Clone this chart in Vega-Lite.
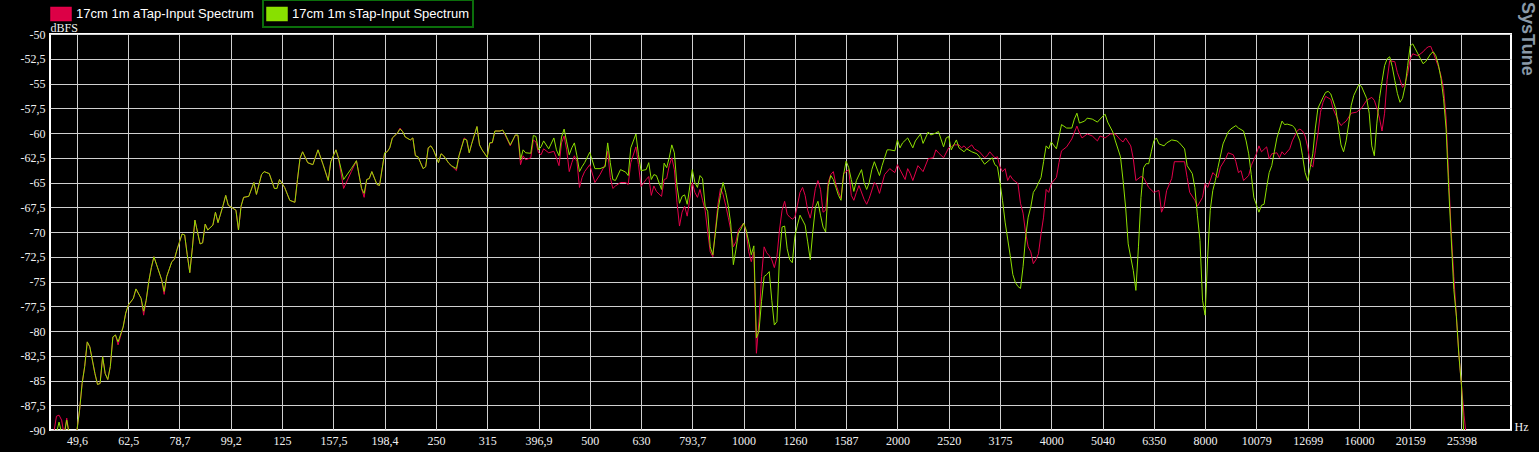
{
  "$schema": "https://vega.github.io/schema/vega-lite/v6.json",
  "autosize": {"type": "none"},
  "width": 1461,
  "height": 396,
  "padding": {"left": 50, "top": 34, "right": 28, "bottom": 22},
  "background": "black",
  "title": {"text": "SysTune", "orient": "right", "anchor": "start", "frame": "bounds", "angle": 90, "baseline": "top", "offset": -10, "dx": 3, "font": "Liberation Sans", "fontSize": 18, "fontWeight": "bold", "color": "#8a99a8"},
  "datasets": {
    "a": [
      {"freq":44.71,"dB":-90.2},{"freq":45.23,"dB":-88.6},{"freq":45.76,"dB":-88.5},{"freq":46.29,"dB":-89.0},{"freq":46.82,"dB":-90.5},{"freq":47.37,"dB":-88.8},{"freq":47.92,"dB":-90.5},{"freq":49.04,"dB":-90.5},
      {"freq":49.61,"dB":-90},{"freq":50.19,"dB":-88.0},{"freq":50.77,"dB":-85.3},{"freq":51.36,"dB":-83.6},{"freq":51.96,"dB":-81.1},{"freq":52.56,"dB":-81.6},{"freq":53.79,"dB":-84.3},{"freq":54.42,"dB":-85.4},{"freq":55.05,"dB":-85.3},{"freq":55.69,"dB":-82.6},{"freq":56.33,"dB":-84.3},{"freq":56.99,"dB":-84.9},{"freq":57.65,"dB":-83.6},{"freq":58.32,"dB":-80.6},{"freq":59.0,"dB":-80.4},{"freq":59.69,"dB":-81.4},{"freq":61.08,"dB":-79.6},{"freq":61.79,"dB":-78.2},
      {"freq":62.5,"dB":-77.4},{"freq":63.96,"dB":-76.7},{"freq":64.71,"dB":-75.75},{"freq":66.22,"dB":-76.7},{"freq":66.99,"dB":-78.4},{"freq":67.76,"dB":-76.9},{"freq":68.56,"dB":-75.0},{"freq":69.35,"dB":-73.6},{"freq":70.16,"dB":-72.5},{"freq":72.63,"dB":-74.8},{"freq":73.48,"dB":-76.3},{"freq":74.33,"dB":-74.5},{"freq":76.06,"dB":-73.0},{"freq":76.95,"dB":-72.75},{"freq":77.84,"dB":-71.8},
      {"freq":79.66,"dB":-70.2},{"freq":80.59,"dB":-70.3},{"freq":81.53,"dB":-72.3},{"freq":82.47,"dB":-74.1},{"freq":83.44,"dB":-71.6},{"freq":84.4,"dB":-68.8},{"freq":86.38,"dB":-71.2},{"freq":87.38,"dB":-71.1},{"freq":88.4,"dB":-69.2},{"freq":89.42,"dB":-69.8},{"freq":91.52,"dB":-69.3},{"freq":92.58,"dB":-68.0},{"freq":93.65,"dB":-69.05},{"freq":95.84,"dB":-67.3},{"freq":96.96,"dB":-66.3},{"freq":98.08,"dB":-67.3},
      {"freq":101.53,"dB":-67.8},{"freq":102.71,"dB":-69.8},{"freq":103.9,"dB":-67.4},{"freq":105.11,"dB":-66.5},{"freq":107.56,"dB":-66.4},{"freq":110.08,"dB":-65.0},{"freq":111.36,"dB":-66.2},{"freq":113.96,"dB":-64.2},{"freq":115.29,"dB":-63.9},{"freq":117.98,"dB":-64.1},{"freq":120.74,"dB":-65.6},{"freq":122.15,"dB":-65.6},{"freq":123.56,"dB":-64.7},
      {"freq":126.45,"dB":-65.5},{"freq":129.41,"dB":-66.8},{"freq":132.44,"dB":-67.0},{"freq":133.98,"dB":-64.7},{"freq":135.53,"dB":-62.55},{"freq":137.11,"dB":-61.9},{"freq":140.31,"dB":-63.0},{"freq":143.59,"dB":-63.2},{"freq":146.95,"dB":-61.7},{"freq":150.39,"dB":-63.2},{"freq":153.9,"dB":-64.8},{"freq":155.69,"dB":-62.9},
      {"freq":159.32,"dB":-61.7},{"freq":161.18,"dB":-62.55},{"freq":164.94,"dB":-65.6},{"freq":170.75,"dB":-63.9},{"freq":174.75,"dB":-62.8},{"freq":178.83,"dB":-65.6},{"freq":180.91,"dB":-66.5},{"freq":183.02,"dB":-64.7},{"freq":185.15,"dB":-64.6},{"freq":187.29,"dB":-63.9},{"freq":191.67,"dB":-65.2},{"freq":193.9,"dB":-65.3},
      {"freq":198.43,"dB":-62.0},{"freq":200.73,"dB":-61.9},{"freq":203.07,"dB":-61.5},{"freq":205.43,"dB":-60.5},{"freq":210.24,"dB":-60.0},{"freq":212.67,"dB":-59.5},{"freq":215.14,"dB":-59.85},{"freq":217.66,"dB":-60.4},{"freq":222.74,"dB":-60.7},{"freq":225.32,"dB":-60.5},{"freq":227.94,"dB":-62.3},{"freq":230.59,"dB":-62.4},{"freq":235.97,"dB":-63.6},{"freq":238.73,"dB":-63.4},{"freq":241.49,"dB":-61.5},{"freq":244.31,"dB":-61.3},{"freq":247.14,"dB":-61.7},
      {"freq":252.9,"dB":-63.0},{"freq":255.85,"dB":-62.1},{"freq":258.83,"dB":-62.3},{"freq":264.88,"dB":-63.05},{"freq":267.95,"dB":-63.3},{"freq":274.23,"dB":-63.8},{"freq":277.4,"dB":-62.3},{"freq":283.88,"dB":-60.5},{"freq":287.18,"dB":-60.7},{"freq":290.53,"dB":-62.0},{"freq":293.9,"dB":-61.05},{"freq":300.78,"dB":-59.35},{"freq":304.25,"dB":-61.2},{"freq":307.8,"dB":-61.7},
      {"freq":314.98,"dB":-62.45},{"freq":318.63,"dB":-61.0},{"freq":322.35,"dB":-61.0},{"freq":326.1,"dB":-59.8},{"freq":333.72,"dB":-59.8},{"freq":337.6,"dB":-59.7},{"freq":341.5,"dB":-60.2},{"freq":349.5,"dB":-61.3},{"freq":357.66,"dB":-60.2},{"freq":361.82,"dB":-60.3},{"freq":366.04,"dB":-63.2},{"freq":370.29,"dB":-62.3},{"freq":374.58,"dB":-62.7},{"freq":383.33,"dB":-62.5},{"freq":387.8,"dB":-60.7},{"freq":392.3,"dB":-60.9},
      {"freq":396.85,"dB":-62.0},{"freq":401.45,"dB":-62.2},{"freq":406.14,"dB":-61.6},{"freq":415.62,"dB":-62.0},{"freq":425.34,"dB":-61.85},{"freq":430.26,"dB":-62.5},{"freq":435.3,"dB":-63.3},{"freq":440.34,"dB":-61.0},{"freq":445.46,"dB":-60.3},{"freq":450.62,"dB":-61.7},{"freq":455.86,"dB":-63.9},{"freq":461.18,"dB":-63.0},{"freq":466.54,"dB":-62.3},{"freq":471.93,"dB":-62.9},{"freq":477.45,"dB":-65.5},{"freq":482.97,"dB":-64.5},{"freq":488.6,"dB":-63.9},
      {"freq":500,"dB":-63.2},{"freq":511.7,"dB":-65.0},{"freq":523.65,"dB":-64.2},{"freq":535.9,"dB":-63.2},{"freq":542.1,"dB":-61.85},{"freq":548.45,"dB":-64.5},{"freq":554.8,"dB":-65.6},{"freq":561.25,"dB":-65.35},{"freq":574.35,"dB":-65.0},{"freq":587.8,"dB":-65.0},{"freq":594.6,"dB":-65.2},{"freq":601.55,"dB":-63.0},{"freq":615.6,"dB":-61.4},{"freq":622.75,"dB":-63.2},
      {"freq":629.96,"dB":-65.4},{"freq":644.7,"dB":-64.7},{"freq":652.2,"dB":-64.4},{"freq":659.75,"dB":-66.3},{"freq":667.44,"dB":-65.35},{"freq":675.2,"dB":-65.9},{"freq":691.0,"dB":-66.4},{"freq":699.0,"dB":-64.7},{"freq":707.1,"dB":-64.6},{"freq":715.3,"dB":-63.3},{"freq":723.6,"dB":-62.5},{"freq":732.1,"dB":-63.7},{"freq":740.6,"dB":-67.0},{"freq":749.2,"dB":-69.4},{"freq":757.9,"dB":-68.0},{"freq":766.7,"dB":-67.4},{"freq":775.6,"dB":-68.4},
      {"freq":793.7,"dB":-65.0},{"freq":802.9,"dB":-66.0},{"freq":812.3,"dB":-66.5},{"freq":821.7,"dB":-65.7},{"freq":831.2,"dB":-66.8},{"freq":840.9,"dB":-67.8},{"freq":850.7,"dB":-70.0},{"freq":860.5,"dB":-72.0},{"freq":870.6,"dB":-72.5},{"freq":880.7,"dB":-69.8},{"freq":890.9,"dB":-67.2},{"freq":901.2,"dB":-65.6},{"freq":911.7,"dB":-66.2},{"freq":922.4,"dB":-67.3},{"freq":933.1,"dB":-68.5},{"freq":943.9,"dB":-69.8},{"freq":954.9,"dB":-71.5},{"freq":965.9,"dB":-71.0},{"freq":977.2,"dB":-69.8},
      {"freq":1000,"dB":-69.1},{"freq":1011.6,"dB":-70.0},{"freq":1023.4,"dB":-72.0},{"freq":1035.3,"dB":-73.0},{"freq":1047.3,"dB":-72.0},{"freq":1059.5,"dB":-82.25},{"freq":1071.8,"dB":-79.0},{"freq":1084.2,"dB":-74.5},{"freq":1096.9,"dB":-71.5},{"freq":1109.6,"dB":-72.1},{"freq":1122.5,"dB":-72.4},{"freq":1135.5,"dB":-72.8},{"freq":1148.7,"dB":-73.6},{"freq":1162.1,"dB":-72.5},{"freq":1175.6,"dB":-69.8},{"freq":1189.2,"dB":-67.8},{"freq":1203.1,"dB":-66.9},{"freq":1217.0,"dB":-68.2},{"freq":1231.2,"dB":-68.5},{"freq":1245.5,"dB":-68.7},
      {"freq":1259.9,"dB":-68.5},{"freq":1274.5,"dB":-67.3},{"freq":1289.4,"dB":-66.0},{"freq":1304.4,"dB":-65.5},{"freq":1319.5,"dB":-66.3},{"freq":1334.9,"dB":-67.8},{"freq":1350.4,"dB":-68.6},{"freq":1366.0,"dB":-67.3},{"freq":1382.0,"dB":-65.6},{"freq":1398.0,"dB":-64.8},{"freq":1414.2,"dB":-65.7},{"freq":1430.6,"dB":-68.0},{"freq":1447.3,"dB":-67.8},{"freq":1464.1,"dB":-65.0},{"freq":1481.1,"dB":-64.2},{"freq":1498.3,"dB":-63.9},{"freq":1515.8,"dB":-65.2},{"freq":1533.3,"dB":-65.9},{"freq":1551.2,"dB":-66.6},{"freq":1569.2,"dB":-64.1},
      {"freq":1605.8,"dB":-63.7},{"freq":1624.6,"dB":-66.3},{"freq":1643.4,"dB":-66.8},{"freq":1662.5,"dB":-66.0},{"freq":1681.9,"dB":-65.3},{"freq":1721.1,"dB":-66.7},{"freq":1741.2,"dB":-67.2},{"freq":1761.4,"dB":-66.6},{"freq":1802.5,"dB":-65.0},{"freq":1823.5,"dB":-65.3},{"freq":1844.7,"dB":-66.1},{"freq":1887.7,"dB":-64.2},{"freq":1931.9,"dB":-63.6},{"freq":1977.1,"dB":-64.0},
      {"freq":2000,"dB":-63.2},{"freq":2023.2,"dB":-63.7},{"freq":2070.6,"dB":-64.7},{"freq":2094.6,"dB":-63.6},{"freq":2119,"dB":-64.1},{"freq":2143.6,"dB":-64.8},{"freq":2193.8,"dB":-63.3},{"freq":2245,"dB":-63.9},{"freq":2297.4,"dB":-62.6},{"freq":2351.2,"dB":-62.5},{"freq":2378.4,"dB":-61.7},{"freq":2406.2,"dB":-62.0},{"freq":2462.4,"dB":-62.5},
      {"freq":2519.8,"dB":-61.5},{"freq":2549.0,"dB":-61.4},{"freq":2578.8,"dB":-61.2},{"freq":2639.0,"dB":-61.2},{"freq":2669.8,"dB":-61.5},{"freq":2700.7,"dB":-61.3},{"freq":2732.0,"dB":-61.6},{"freq":2796.0,"dB":-61.2},{"freq":2828.5,"dB":-61.6},{"freq":2894.5,"dB":-61.9},{"freq":2962.3,"dB":-62.5},{"freq":2996.6,"dB":-62.3},{"freq":3031.6,"dB":-61.9},{"freq":3102.4,"dB":-62.5},{"freq":3138.4,"dB":-62.4},
      {"freq":3174.8,"dB":-63.4},{"freq":3211.6,"dB":-63.9},{"freq":3249.1,"dB":-63.6},{"freq":3286.9,"dB":-64.8},{"freq":3325.0,"dB":-64.3},{"freq":3363.8,"dB":-64.7},{"freq":3442.1,"dB":-65.1},{"freq":3482.5,"dB":-67.1},{"freq":3522.8,"dB":-68.1},{"freq":3563.7,"dB":-70.1},{"freq":3605.0,"dB":-71.5},{"freq":3646.9,"dB":-72.0},{"freq":3689.4,"dB":-73.2},{"freq":3732.3,"dB":-72.8},{"freq":3775.5,"dB":-72.2},{"freq":3819.6,"dB":-70.2},{"freq":3863.7,"dB":-68.5},{"freq":3908.9,"dB":-65.7},{"freq":3954.2,"dB":-66.0},
      {"freq":4000,"dB":-65.1},{"freq":4093.6,"dB":-64.5},{"freq":4141.2,"dB":-63.0},{"freq":4189.2,"dB":-61.8},{"freq":4287.2,"dB":-61.4},{"freq":4387.6,"dB":-60.6},{"freq":4490,"dB":-59.3},{"freq":4542,"dB":-60.0},{"freq":4594.8,"dB":-60.5},{"freq":4702.4,"dB":-60.1},{"freq":4812.4,"dB":-60.3},{"freq":4924.8,"dB":-60.8},{"freq":4982,"dB":-60.3},
      {"freq":5098.2,"dB":-60.5},{"freq":5157.6,"dB":-60.3},{"freq":5217.6,"dB":-60.1},{"freq":5339.6,"dB":-60.1},{"freq":5464.0,"dB":-60.7},{"freq":5528.1,"dB":-60.9},{"freq":5592.1,"dB":-60.5},{"freq":5722.6,"dB":-61.3},{"freq":5789.1,"dB":-62.6},{"freq":5856.6,"dB":-64.8},{"freq":5993.2,"dB":-64.4},{"freq":6063.3,"dB":-64.5},{"freq":6204.9,"dB":-65.5},
      {"freq":6349.6,"dB":-66.0},{"freq":6423.3,"dB":-65.9},{"freq":6498.2,"dB":-65.8},{"freq":6573.7,"dB":-68.0},{"freq":6649.9,"dB":-67.4},{"freq":6727.4,"dB":-65.8},{"freq":6884.2,"dB":-64.6},{"freq":6964.9,"dB":-62.9},{"freq":7293.8,"dB":-62.9},{"freq":7378.9,"dB":-64.5},{"freq":7464.6,"dB":-66.0},{"freq":7639.2,"dB":-66.8},{"freq":7727.5,"dB":-67.4},{"freq":7908.4,"dB":-66.5},
      {"freq":8000,"dB":-65.1},{"freq":8092.8,"dB":-65.5},{"freq":8187.2,"dB":-64.8},{"freq":8282.4,"dB":-64.0},{"freq":8476,"dB":-64.5},{"freq":8574.4,"dB":-63.45},{"freq":8775.2,"dB":-62.6},{"freq":8876.8,"dB":-62.0},{"freq":9084,"dB":-62.2},{"freq":9189.6,"dB":-62.9},{"freq":9296.8,"dB":-64.0},{"freq":9404.8,"dB":-63.8},{"freq":9513.6,"dB":-64.8},{"freq":9736,"dB":-64.3},{"freq":9849.6,"dB":-63.3},
      {"freq":10079,"dB":-62.1},{"freq":10196,"dB":-61.3},{"freq":10315,"dB":-61.9},{"freq":10556,"dB":-61.4},{"freq":10679,"dB":-62.6},{"freq":10803,"dB":-62.1},{"freq":11056,"dB":-62.0},{"freq":11184,"dB":-62.5},{"freq":11314,"dB":-61.9},{"freq":11445,"dB":-62.2},{"freq":11713,"dB":-61.6},{"freq":11849,"dB":-60.8},{"freq":12126,"dB":-59.75},{"freq":12266,"dB":-59.6},{"freq":12409,"dB":-59.8},{"freq":12553,"dB":-60.3},
      {"freq":12699,"dB":-61.4},{"freq":12846,"dB":-63.1},{"freq":12996,"dB":-63.45},{"freq":13147,"dB":-61.8},{"freq":13300,"dB":-60.1},{"freq":13455,"dB":-57.9},{"freq":13611,"dB":-56.9},{"freq":13768,"dB":-56.3},{"freq":14091,"dB":-56.6},{"freq":14255,"dB":-57.6},{"freq":14587,"dB":-58.8},{"freq":14758,"dB":-59.25},{"freq":14929,"dB":-59.0},{"freq":15102,"dB":-58.8},{"freq":15455,"dB":-58.0},{"freq":15817,"dB":-57.9},
      {"freq":16000,"dB":-57.7},{"freq":16186,"dB":-57.5},{"freq":16565,"dB":-56.7},{"freq":16952,"dB":-56.4},{"freq":17149,"dB":-56.7},{"freq":17347,"dB":-57.5},{"freq":17550,"dB":-58.5},{"freq":17754,"dB":-59.8},{"freq":17960,"dB":-58.0},{"freq":18168,"dB":-54.6},{"freq":18379,"dB":-52.7},{"freq":18810,"dB":-52.8},{"freq":19027,"dB":-53.9},{"freq":19250,"dB":-54.6},{"freq":19472,"dB":-55.4},{"freq":19699,"dB":-55.0},{"freq":19928,"dB":-54.0},
      {"freq":20159,"dB":-52.5},{"freq":20393,"dB":-52.0},{"freq":20871,"dB":-52.2},{"freq":21358,"dB":-51.8},{"freq":21606,"dB":-51.5},{"freq":21856,"dB":-51.3},{"freq":22112,"dB":-51.25},{"freq":22368,"dB":-51.9},{"freq":22628,"dB":-52.6},{"freq":22891,"dB":-53.3},{"freq":23157,"dB":-54.2},{"freq":23427,"dB":-55.5},{"freq":23699,"dB":-58.5},{"freq":23973,"dB":-64.5},{"freq":24253,"dB":-70.0},{"freq":24534,"dB":-74.5},{"freq":24820,"dB":-78.5},{"freq":25108,"dB":-82.5},
      {"freq":25398,"dB":-85.5},{"freq":25692,"dB":-88.5},{"freq":25993,"dB":-91}
    ],
    "s": [
      {"freq":45.23,"dB":-90.3},{"freq":45.76,"dB":-89.2},{"freq":46.29,"dB":-90.3},{"freq":46.82,"dB":-90.5},{"freq":47.37,"dB":-89.0},{"freq":47.92,"dB":-90.5},{"freq":49.04,"dB":-90.5},
      {"freq":49.61,"dB":-90},{"freq":50.19,"dB":-88.0},{"freq":50.77,"dB":-85.3},{"freq":51.36,"dB":-83.6},{"freq":51.96,"dB":-81.1},{"freq":52.56,"dB":-81.6},{"freq":53.79,"dB":-84.3},{"freq":54.42,"dB":-85.4},{"freq":55.05,"dB":-85.3},{"freq":55.69,"dB":-82.6},{"freq":56.33,"dB":-84.3},{"freq":56.99,"dB":-84.9},{"freq":57.65,"dB":-83.6},{"freq":58.32,"dB":-80.6},{"freq":59.0,"dB":-80.4},{"freq":59.69,"dB":-81.1},{"freq":61.08,"dB":-79.6},{"freq":61.79,"dB":-78.2},
      {"freq":62.5,"dB":-77.4},{"freq":63.96,"dB":-76.7},{"freq":64.71,"dB":-75.75},{"freq":66.22,"dB":-76.7},{"freq":66.99,"dB":-78.0},{"freq":67.76,"dB":-76.9},{"freq":68.56,"dB":-75.0},{"freq":69.35,"dB":-73.6},{"freq":70.16,"dB":-72.5},{"freq":72.63,"dB":-74.8},{"freq":73.48,"dB":-76.0},{"freq":74.33,"dB":-74.5},{"freq":76.06,"dB":-73.0},{"freq":76.95,"dB":-72.75},{"freq":77.84,"dB":-71.8},
      {"freq":79.66,"dB":-70.2},{"freq":80.59,"dB":-70.3},{"freq":81.53,"dB":-72.3},{"freq":82.47,"dB":-74.1},{"freq":83.44,"dB":-71.6},{"freq":84.4,"dB":-68.8},{"freq":86.38,"dB":-71.2},{"freq":87.38,"dB":-71.1},{"freq":88.4,"dB":-69.2},{"freq":89.42,"dB":-69.8},{"freq":91.52,"dB":-69.3},{"freq":92.58,"dB":-68.0},{"freq":93.65,"dB":-69.05},{"freq":95.84,"dB":-67.3},{"freq":96.96,"dB":-66.3},{"freq":98.08,"dB":-67.3},
      {"freq":101.53,"dB":-67.8},{"freq":102.71,"dB":-69.8},{"freq":103.9,"dB":-67.4},{"freq":105.11,"dB":-66.5},{"freq":107.56,"dB":-66.4},{"freq":110.08,"dB":-65.0},{"freq":111.36,"dB":-66.2},{"freq":113.96,"dB":-64.2},{"freq":115.29,"dB":-63.9},{"freq":117.98,"dB":-64.1},{"freq":120.74,"dB":-65.6},{"freq":122.15,"dB":-65.6},{"freq":123.56,"dB":-64.7},
      {"freq":126.45,"dB":-65.5},{"freq":129.41,"dB":-66.8},{"freq":132.44,"dB":-67.0},{"freq":133.98,"dB":-64.7},{"freq":135.53,"dB":-62.55},{"freq":137.11,"dB":-61.9},{"freq":140.31,"dB":-63.0},{"freq":143.59,"dB":-63.2},{"freq":146.95,"dB":-61.7},{"freq":150.39,"dB":-63.2},{"freq":153.9,"dB":-64.8},{"freq":155.69,"dB":-62.9},
      {"freq":159.32,"dB":-61.7},{"freq":161.18,"dB":-62.55},{"freq":164.94,"dB":-64.7},{"freq":170.75,"dB":-63.6},{"freq":174.75,"dB":-62.8},{"freq":178.83,"dB":-65.6},{"freq":180.91,"dB":-66.1},{"freq":183.02,"dB":-64.7},{"freq":185.15,"dB":-64.6},{"freq":187.29,"dB":-63.9},{"freq":191.67,"dB":-65.2},{"freq":193.9,"dB":-65.3},
      {"freq":198.43,"dB":-62.0},{"freq":200.73,"dB":-61.9},{"freq":203.07,"dB":-61.5},{"freq":205.43,"dB":-60.5},{"freq":210.24,"dB":-60.0},{"freq":212.67,"dB":-59.6},{"freq":215.14,"dB":-59.85},{"freq":217.66,"dB":-60.4},{"freq":222.74,"dB":-60.7},{"freq":225.32,"dB":-60.5},{"freq":227.94,"dB":-62.3},{"freq":230.59,"dB":-62.4},{"freq":235.97,"dB":-63.6},{"freq":238.73,"dB":-63.4},{"freq":241.49,"dB":-61.5},{"freq":244.31,"dB":-61.3},{"freq":247.14,"dB":-61.7},
      {"freq":252.9,"dB":-63.0},{"freq":255.85,"dB":-62.1},{"freq":258.83,"dB":-62.3},{"freq":264.88,"dB":-63.05},{"freq":267.95,"dB":-63.3},{"freq":274.23,"dB":-63.6},{"freq":277.4,"dB":-62.3},{"freq":283.88,"dB":-60.6},{"freq":287.18,"dB":-60.7},{"freq":290.53,"dB":-62.0},{"freq":293.9,"dB":-61.05},{"freq":300.78,"dB":-59.35},{"freq":304.25,"dB":-61.2},{"freq":307.8,"dB":-61.7},
      {"freq":314.98,"dB":-62.45},{"freq":318.63,"dB":-61.0},{"freq":322.35,"dB":-60.95},{"freq":326.1,"dB":-59.8},{"freq":333.72,"dB":-59.8},{"freq":337.6,"dB":-59.7},{"freq":341.5,"dB":-60.1},{"freq":349.5,"dB":-61.2},{"freq":357.66,"dB":-60.2},{"freq":361.82,"dB":-60.2},{"freq":366.04,"dB":-62.7},{"freq":370.29,"dB":-61.7},{"freq":374.58,"dB":-62.0},{"freq":383.33,"dB":-62.05},{"freq":387.8,"dB":-60.25},{"freq":392.3,"dB":-60.35},
      {"freq":396.85,"dB":-61.7},{"freq":401.45,"dB":-61.4},{"freq":406.14,"dB":-60.8},{"freq":415.62,"dB":-61.6},{"freq":425.34,"dB":-60.5},{"freq":430.26,"dB":-61.7},{"freq":435.3,"dB":-62.3},{"freq":440.34,"dB":-60.4},{"freq":445.46,"dB":-59.6},{"freq":450.62,"dB":-60.9},{"freq":455.86,"dB":-62.2},{"freq":461.18,"dB":-61.5},{"freq":466.54,"dB":-61.0},{"freq":471.93,"dB":-62.3},{"freq":477.45,"dB":-63.9},{"freq":482.97,"dB":-63.4},{"freq":488.6,"dB":-63.0},
      {"freq":500,"dB":-61.95},{"freq":511.7,"dB":-63.6},{"freq":523.65,"dB":-63.6},{"freq":535.9,"dB":-63.4},{"freq":542.1,"dB":-61.0},{"freq":548.45,"dB":-63.0},{"freq":554.8,"dB":-64.7},{"freq":561.25,"dB":-64.8},{"freq":574.35,"dB":-63.7},{"freq":587.8,"dB":-63.95},{"freq":594.6,"dB":-64.3},{"freq":601.55,"dB":-61.5},{"freq":615.6,"dB":-60.1},{"freq":622.75,"dB":-62.2},
      {"freq":629.96,"dB":-63.8},{"freq":644.7,"dB":-63.7},{"freq":652.2,"dB":-63.0},{"freq":659.75,"dB":-64.7},{"freq":667.44,"dB":-64.2},{"freq":675.2,"dB":-64.3},{"freq":691.0,"dB":-65.7},{"freq":699.0,"dB":-63.05},{"freq":707.1,"dB":-63.5},{"freq":715.3,"dB":-62.5},{"freq":723.6,"dB":-61.2},{"freq":732.1,"dB":-62.0},{"freq":740.6,"dB":-65.3},{"freq":749.2,"dB":-67.1},{"freq":757.9,"dB":-66.4},{"freq":766.7,"dB":-66.25},{"freq":775.6,"dB":-67.2},
      {"freq":793.7,"dB":-63.7},{"freq":802.9,"dB":-65.0},{"freq":812.3,"dB":-65.5},{"freq":821.7,"dB":-64.3},{"freq":831.2,"dB":-64.6},{"freq":840.9,"dB":-67.4},{"freq":850.7,"dB":-67.9},{"freq":860.5,"dB":-71.5},{"freq":870.6,"dB":-72.3},{"freq":880.7,"dB":-70.1},{"freq":890.9,"dB":-67.8},{"freq":901.2,"dB":-66.3},{"freq":911.7,"dB":-65.0},{"freq":922.4,"dB":-66.0},{"freq":933.1,"dB":-67.3},{"freq":943.9,"dB":-69.2},{"freq":954.9,"dB":-73.3},{"freq":965.9,"dB":-71.8},{"freq":977.2,"dB":-70.1},{"freq":988.5,"dB":-69.7},
      {"freq":1000,"dB":-69.1},{"freq":1011.6,"dB":-69.8},{"freq":1023.4,"dB":-71.0},{"freq":1035.3,"dB":-72.3},{"freq":1047.3,"dB":-71.4},{"freq":1059.5,"dB":-80.7},{"freq":1071.8,"dB":-80.0},{"freq":1084.2,"dB":-77.0},{"freq":1096.9,"dB":-74.5},{"freq":1109.6,"dB":-74.3},{"freq":1122.5,"dB":-74.0},{"freq":1135.5,"dB":-76.9},{"freq":1148.7,"dB":-79.4},{"freq":1162.1,"dB":-79.05},{"freq":1175.6,"dB":-72.5},{"freq":1189.2,"dB":-69.5},{"freq":1203.1,"dB":-69.4},{"freq":1217.0,"dB":-71.7},{"freq":1231.2,"dB":-72.8},{"freq":1245.5,"dB":-73.1},
      {"freq":1259.9,"dB":-70.45},{"freq":1274.5,"dB":-69.3},{"freq":1289.4,"dB":-68.3},{"freq":1319.5,"dB":-69.3},{"freq":1334.9,"dB":-71.0},{"freq":1350.4,"dB":-72.8},{"freq":1366.0,"dB":-70.0},{"freq":1382.0,"dB":-67.5},{"freq":1398.0,"dB":-66.9},{"freq":1414.2,"dB":-68.3},{"freq":1430.6,"dB":-69.5},{"freq":1447.3,"dB":-70.0},{"freq":1464.1,"dB":-65.4},{"freq":1481.1,"dB":-64.3},{"freq":1498.3,"dB":-64.7},{"freq":1515.8,"dB":-65.5},{"freq":1533.3,"dB":-66.3},{"freq":1551.2,"dB":-66.8},{"freq":1569.2,"dB":-64.2},
      {"freq":1587.4,"dB":-62.85},{"freq":1605.8,"dB":-63.5},{"freq":1624.6,"dB":-64.7},{"freq":1643.4,"dB":-65.9},{"freq":1662.5,"dB":-64.8},{"freq":1701.4,"dB":-63.7},{"freq":1721.1,"dB":-65.0},{"freq":1741.2,"dB":-65.7},{"freq":1761.4,"dB":-65.0},{"freq":1781.9,"dB":-63.7},{"freq":1802.5,"dB":-62.9},{"freq":1844.7,"dB":-64.3},{"freq":1866.1,"dB":-63.3},{"freq":1887.7,"dB":-62.5},{"freq":1909.8,"dB":-61.7},{"freq":1931.9,"dB":-61.7},{"freq":1977.1,"dB":-61.8},
      {"freq":2000,"dB":-60.7},{"freq":2023.2,"dB":-61.5},{"freq":2046.8,"dB":-61.0},{"freq":2094.6,"dB":-60.5},{"freq":2143.6,"dB":-61.5},{"freq":2168.4,"dB":-60.8},{"freq":2219.2,"dB":-60.1},{"freq":2245,"dB":-61.05},{"freq":2297.4,"dB":-59.9},{"freq":2324.2,"dB":-60.2},{"freq":2378.4,"dB":-60.0},{"freq":2406.2,"dB":-59.85},{"freq":2462.4,"dB":-61.4},{"freq":2491,"dB":-60.5},
      {"freq":2519.8,"dB":-60.35},{"freq":2549.0,"dB":-61.7},{"freq":2608.8,"dB":-60.7},{"freq":2639.0,"dB":-61.5},{"freq":2700.7,"dB":-61.9},{"freq":2732.0,"dB":-61.6},{"freq":2796.0,"dB":-61.9},{"freq":2861.3,"dB":-62.1},{"freq":2894.5,"dB":-62.4},{"freq":2962.3,"dB":-63.15},{"freq":3031.6,"dB":-62.7},{"freq":3066.6,"dB":-62.5},{"freq":3102.4,"dB":-63.2},{"freq":3138.4,"dB":-63.4},
      {"freq":3174.8,"dB":-65.0},{"freq":3211.6,"dB":-66.8},{"freq":3249.1,"dB":-69.0},{"freq":3325.0,"dB":-72.4},{"freq":3363.8,"dB":-74.3},{"freq":3402.7,"dB":-75.1},{"freq":3442.1,"dB":-75.5},{"freq":3482.5,"dB":-75.7},{"freq":3522.8,"dB":-73.5},{"freq":3563.7,"dB":-70.5},{"freq":3605.0,"dB":-68.5},{"freq":3646.9,"dB":-67.5},{"freq":3689.4,"dB":-66.0},{"freq":3732.3,"dB":-65.6},{"freq":3819.6,"dB":-64.5},{"freq":3863.7,"dB":-62.9},{"freq":3908.9,"dB":-61.3},{"freq":3954.2,"dB":-61.6},
      {"freq":4000,"dB":-60.9},{"freq":4093.6,"dB":-61.6},{"freq":4141.2,"dB":-60.4},{"freq":4189.2,"dB":-59.15},{"freq":4287.2,"dB":-59.5},{"freq":4387.6,"dB":-59.5},{"freq":4438.4,"dB":-58.6},{"freq":4490,"dB":-58.0},{"freq":4542,"dB":-59.0},{"freq":4648.4,"dB":-58.8},{"freq":4702.4,"dB":-58.5},{"freq":4812.4,"dB":-58.6},{"freq":4924.8,"dB":-58.9},{"freq":4982,"dB":-58.6},
      {"freq":5098.2,"dB":-58.1},{"freq":5157.6,"dB":-58.9},{"freq":5278.1,"dB":-59.9},{"freq":5339.6,"dB":-60.8},{"freq":5464.0,"dB":-62.4},{"freq":5528.1,"dB":-64.8},{"freq":5592.1,"dB":-67.5},{"freq":5657.1,"dB":-71.2},{"freq":5789.1,"dB":-73.9},{"freq":5856.6,"dB":-75.9},{"freq":5924.7,"dB":-71.5},{"freq":5993.2,"dB":-66.5},{"freq":6063.3,"dB":-63.5},{"freq":6133.3,"dB":-63.1},{"freq":6204.9,"dB":-63.1},{"freq":6276.9,"dB":-61.9},
      {"freq":6349.6,"dB":-60.8},{"freq":6423.3,"dB":-60.5},{"freq":6498.2,"dB":-61.1},{"freq":6649.9,"dB":-61.3},{"freq":6727.4,"dB":-61.0},{"freq":6884.2,"dB":-60.7},{"freq":7045.5,"dB":-60.8},{"freq":7127.4,"dB":-61.0},{"freq":7293.8,"dB":-61.6},{"freq":7378.9,"dB":-63.3},{"freq":7551.0,"dB":-64.1},{"freq":7639.2,"dB":-65.5},{"freq":7727.5,"dB":-68.3},{"freq":7817.6,"dB":-70.85},{"freq":7908.4,"dB":-76.9},
      {"freq":8000,"dB":-78.4},{"freq":8092.8,"dB":-72.5},{"freq":8187.2,"dB":-67.8},{"freq":8282.4,"dB":-65.8},{"freq":8378.4,"dB":-64.8},{"freq":8476,"dB":-63.5},{"freq":8673.6,"dB":-61.1},{"freq":8876.8,"dB":-59.9},{"freq":8980,"dB":-59.6},{"freq":9189.6,"dB":-59.25},{"freq":9296.8,"dB":-59.5},{"freq":9513.6,"dB":-59.8},{"freq":9624.8,"dB":-60.8},{"freq":9736,"dB":-62.1},{"freq":9849.6,"dB":-64.2},{"freq":9964,"dB":-66.5},
      {"freq":10196,"dB":-68.0},{"freq":10315,"dB":-67.3},{"freq":10435,"dB":-67.2},{"freq":10556,"dB":-65.5},{"freq":10679,"dB":-64.0},{"freq":10803,"dB":-63.3},{"freq":10928,"dB":-61.9},{"freq":11056,"dB":-60.5},{"freq":11314,"dB":-58.8},{"freq":11445,"dB":-59.15},{"freq":11578,"dB":-59.1},{"freq":11849,"dB":-59.25},{"freq":11986,"dB":-59.5},{"freq":12266,"dB":-60.8},{"freq":12409,"dB":-62.3},{"freq":12553,"dB":-64.0},
      {"freq":12699,"dB":-64.8},{"freq":12846,"dB":-63.5},{"freq":12996,"dB":-62.1},{"freq":13147,"dB":-59.5},{"freq":13300,"dB":-57.5},{"freq":13611,"dB":-56.4},{"freq":13768,"dB":-55.9},{"freq":13930,"dB":-55.8},{"freq":14091,"dB":-56.05},{"freq":14420,"dB":-57.6},{"freq":14587,"dB":-59.4},{"freq":14758,"dB":-61.2},{"freq":14929,"dB":-61.9},{"freq":15102,"dB":-60.8},{"freq":15278,"dB":-59.1},{"freq":15455,"dB":-57.2},{"freq":15635,"dB":-56.2},
      {"freq":16000,"dB":-55.1},{"freq":16186,"dB":-55.3},{"freq":16565,"dB":-56.5},{"freq":16757,"dB":-58.0},{"freq":16952,"dB":-61.3},{"freq":17149,"dB":-62.3},{"freq":17347,"dB":-59.0},{"freq":17550,"dB":-56.5},{"freq":17754,"dB":-54.8},{"freq":17960,"dB":-53.2},{"freq":18168,"dB":-52.5},{"freq":18379,"dB":-52.3},{"freq":18594,"dB":-53.3},{"freq":18810,"dB":-54.7},{"freq":19027,"dB":-56.0},{"freq":19250,"dB":-56.9},{"freq":19472,"dB":-56.5},{"freq":19699,"dB":-55.3},{"freq":19928,"dB":-53.2},
      {"freq":20159,"dB":-51.2},{"freq":20393,"dB":-51.0},{"freq":20631,"dB":-51.5},{"freq":20871,"dB":-52.0},{"freq":21113,"dB":-52.5},{"freq":21358,"dB":-53.0},{"freq":21606,"dB":-52.8},{"freq":22112,"dB":-52.0},{"freq":22368,"dB":-51.8},{"freq":22628,"dB":-52.2},{"freq":22891,"dB":-53.1},{"freq":23157,"dB":-54.5},{"freq":23427,"dB":-56.5},{"freq":23699,"dB":-59.6},{"freq":23973,"dB":-65.5},{"freq":24253,"dB":-70.7},{"freq":24534,"dB":-75.8},{"freq":24820,"dB":-78.5},{"freq":25108,"dB":-82.5},
      {"freq":25398,"dB":-85.5},{"freq":25692,"dB":-91}
    ]
  },
  "encoding": {
    "x": {
      "field": "freq", "type": "quantitative",
      "scale": {"type": "log", "domain": [43.93, 31746], "nice": false},
      "axis": {
        "title": "Hz", "titleFont": "Liberation Serif", "titleFontSize": 12, "titleFontWeight": "normal", "titleColor": "#f0f0f0",
        "titleAngle": 0, "titleAlign": "left", "titleBaseline": "alphabetic", "titleX": 1464, "titleY": 0,
        "values": [49.6, 62.5, 78.7, 99.2, 125, 157.5, 198.4, 250, 315, 396.9, 500, 630, 793.7, 1000, 1260, 1587, 2000, 2520, 3175, 4000, 5040, 6350, 8000, 10079, 12699, 16000, 20159, 25398],
        "labelExpr": "replace(toString(datum.value), '.', ',')",
        "labelFont": "Liberation Serif", "labelFontSize": 12, "labelColor": "#f0f0f0",
        "labelPadding": 5, "labelBaseline": "top", "labelOverlap": false, "labelFlush": false, "labelBound": false,
        "ticks": false, "domain": false,
        "grid": true, "gridColor": "#d0d0d0", "gridWidth": 1, "gridOpacity": 1
      }
    },
    "y": {
      "field": "dB", "type": "quantitative",
      "scale": {"domain": [-90, -50], "nice": false, "zero": false},
      "axis": {
        "title": "dBFS", "titleFont": "Liberation Serif", "titleFontSize": 12, "titleFontWeight": "normal", "titleColor": "#f0f0f0",
        "titleAngle": 0, "titleAlign": "left", "titleBaseline": "alphabetic", "titleX": 0, "titleY": -3,
        "values": [-50, -52.5, -55, -57.5, -60, -62.5, -65, -67.5, -70, -72.5, -75, -77.5, -80, -82.5, -85, -87.5, -90],
        "labelExpr": "replace(toString(datum.value), '.', ',')",
        "labelFont": "Liberation Serif", "labelFontSize": 12, "labelColor": "#f0f0f0",
        "labelPadding": 5, "labelOverlap": false, "labelFlush": false, "labelBound": false,
        "ticks": false, "domain": false,
        "grid": true, "gridColor": "#d0d0d0", "gridWidth": 1, "gridOpacity": 1
      }
    }
  },
  "layer": [
    {
      "data": {"name": "a"},
      "mark": {"type": "line", "strokeWidth": 1, "clip": true},
      "encoding": {
        "color": {
          "datum": "17cm 1m aTap-Input Spectrum",
          "scale": {"range": ["#e4004a"]},
          "legend": {
            "orient": "none", "legendX": 0, "legendY": -31, "title": null, "padding": 0,
            "symbolType": "M-1,-0.65H1V0.65H-1Z", "symbolSize": 400, "labelLimit": 400,
            "labelFont": "Liberation Sans", "labelFontSize": 13, "labelColor": "#ffffff", "labelOffset": 4,
            "encode": {"symbols": {"update": {"fill": {"value": "#dc0046"}, "stroke": {"value": "transparent"}}}}
          }
        }
      }
    },
    {
      "data": {"name": "s"},
      "mark": {"type": "line", "strokeWidth": 1, "clip": true},
      "encoding": {
        "stroke": {
          "datum": "17cm 1m sTap-Input Spectrum",
          "scale": {"range": ["#8ee000"]},
          "legend": {
            "orient": "none", "legendX": 213, "legendY": -34, "title": null, "padding": 3,
            "strokeColor": "#0b6e0b",
            "symbolType": "M-1,-0.65H1V0.65H-1Z", "symbolSize": 400, "labelLimit": 400,
            "labelFont": "Liberation Sans", "labelFontSize": 13, "labelColor": "#ffffff", "labelOffset": 4,
            "encode": {
              "symbols": {"update": {"fill": {"value": "#88e000"}, "stroke": {"value": "transparent"}}},
              "legend": {"update": {"strokeWidth": {"value": 2}}}
            }
          }
        }
      }
    }
  ],
  "config": {
    "view": {"stroke": "#ffffff", "strokeWidth": 2, "fill": "black"}
  }
}
